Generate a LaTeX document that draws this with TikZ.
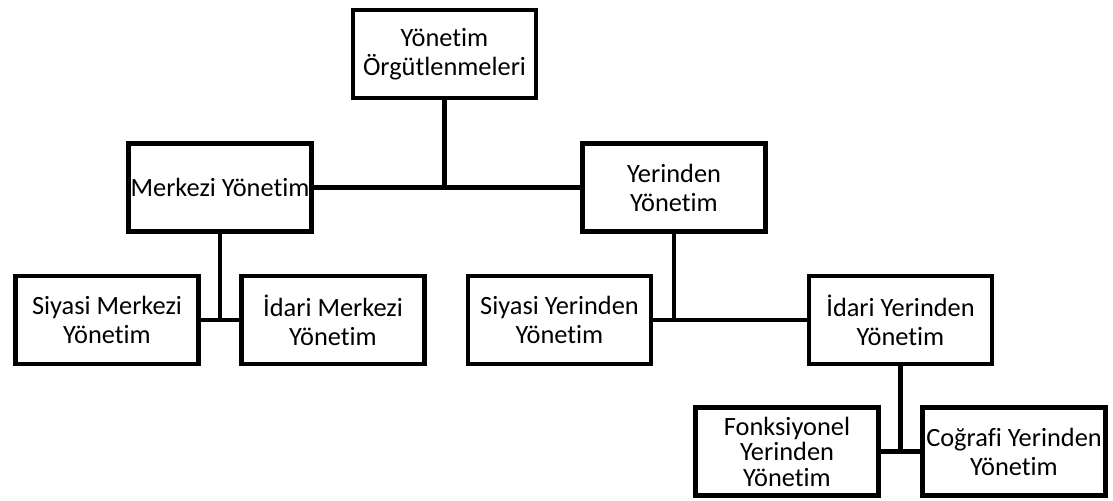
\documentclass[tikz,border=0pt]{standalone}
\usepackage{fontspec}
\setmainfont{Carlito}[Ligatures=NoCommon]
\tikzset{
  orgbox/.style={draw=black, line width=2.8pt, fill=white, align=center,
    minimum width=3.660000cm, minimum height=1.760000cm, inner sep=0pt,
    font=\fontsize{15pt}{16.5pt}\selectfont},
  orglink/.style={draw=black, line width=2.6pt},
}
\begin{document}
\begin{tikzpicture}
            \useasboundingbox (0.000000,0.000000) rectangle (22.260000,10.020000);
            
            % Marking box top
            \node [orgbox] (ust) at (8.890000,8.940000) {Yönetim\\Örgütlenmeleri};%
            
            % Marking boxes of second row
            \node [orgbox] (merkezi) at (4.400000,6.270000) {Merkezi Yönetim};%
            \node [orgbox] (yerinden) at (13.480000,6.270000) {Yerinden\\Yönetim};%
            
            % Marking boxes of third row
            \node [orgbox] (siyasiM) at (2.140000,3.620000) {Siyasi Merkezi\\Yönetim};%
            \node [orgbox] (idariM) at (6.660000,3.620000) {İdari Merkezi\\Yönetim};%
            \node [orgbox] (siyasiY) at (11.190000,3.620000) {Siyasi Yerinden\\Yönetim};%
            \node [orgbox] (idariY) at (18.010000,3.620000) {İdari Yerinden\\Yönetim};%
            
            % Marking boxes of fourth row
            \node [orgbox, font=\fontsize{15pt}{14.5pt}\selectfont] (fonk) at (15.740000,0.990000) {Fonksiyonel\\Yerinden\\Yönetim};%
            \node [orgbox] (cografi) at (20.280000,0.990000) {Coğrafi Yerinden\\Yönetim};%
            
            % Drawing links ust -> merkezi, yerinden
            \draw [orglink] (ust.south) -- (ust.south |- merkezi.east);%
            \draw [orglink] (merkezi.east) -- (yerinden.west);%
            
            % Drawing links merkezi -> siyasiM, idariM
            \draw [orglink] (merkezi.south) -- (merkezi.south |- siyasiM.east);%
            \draw [orglink] (siyasiM.east) -- (idariM.west);%
            
            % Drawing links yerinden -> siyasiY, idariY
            \draw [orglink] (yerinden.south) -- (yerinden.south |- siyasiY.east);%
            \draw [orglink] (siyasiY.east) -- (idariY.west);%
            
            % Drawing links idariY -> fonk, cografi
            \draw [orglink] (idariY.south) -- (idariY.south |- fonk.east);%
            \draw [orglink] (fonk.east) -- (cografi.west);%
        \end{tikzpicture}
\end{document}
